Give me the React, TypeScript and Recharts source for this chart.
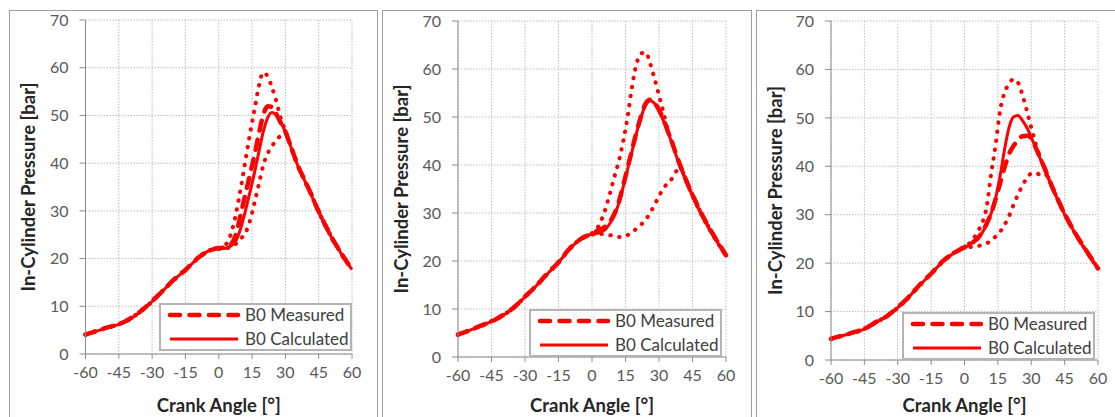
import React from 'react'
import { LineChart, Line, XAxis, YAxis, CartesianGrid, Legend } from 'recharts'

// crank angle [deg]: coarse during compression, finer around combustion
const ANGLES = [
  -60, -55, -50, -45, -40, -35, -30, -25, -20, -15, -10, -5, 0,
  2, 4, 6, 8, 10, 12, 14, 16, 18, 20, 22, 24, 26, 28, 30,
  32, 34, 36, 38, 40, 42, 44, 46, 48, 50, 52, 54, 56, 58, 60,
]
const X_TICKS = [-60, -45, -30, -15, 0, 15, 30, 45, 60]
const Y_TICKS = [0, 10, 20, 30, 40, 50, 60, 70]

// ---- case 1 ----
const P1_CALC = [
  4.0, 4.8, 5.5, 6.2, 7.3, 9.0, 11.0, 13.3, 15.6, 17.6, 19.8, 21.5, 22.1,
  22.1, 22.3, 22.8, 24.0, 26.5, 30.0, 33.8, 37.8, 42.2, 46.5, 49.5, 50.6, 50.0, 48.5, 46.5,
  44.0, 41.4, 39.0, 37.0, 35.0, 33.0, 30.8, 28.8, 26.9, 25.1, 23.4, 21.9, 20.4, 19.0, 17.7,
]
const P1_MEAS = [
  4.1, 4.8, 5.6, 6.2, 7.4, 9.0, 11.1, 13.3, 15.7, 17.6, 19.9, 21.5, 22.2,
  22.3, 22.6, 23.3, 25.5, 29.5, 33.5, 37.5, 41.5, 46.0, 50.0, 51.9, 51.8, 50.2, 48.4, 46.6,
  44.1, 41.5, 39.1, 37.1, 35.1, 33.1, 30.9, 28.9, 27.0, 25.2, 23.5, 22.0, 20.5, 19.1, 17.6,
]
const P1_HIGH = [
  4.1, 4.9, 5.5, 6.3, 7.3, 9.1, 11.0, 13.4, 15.6, 17.7, 19.8, 21.6, 22.2,
  22.5, 23.5, 26.0, 30.0, 35.0, 40.5, 46.0, 51.0, 56.0, 59.0, 58.2, 55.8, 52.8, 49.3, 46.8,
  44.2, 41.5, 39.1, 37.1, 35.1, 33.1, 30.9, 28.9, 27.0, 25.2, 23.5, 22.0, 20.5, 19.1, 17.8,
]
const P1_LOW = [
  4.0, 4.8, 5.5, 6.2, 7.3, 9.0, 11.0, 13.3, 15.6, 17.6, 19.8, 21.5, 22.0,
  22.0, 22.2, 22.6, 23.2, 24.2, 25.4, 27.8, 31.5, 35.5, 39.5, 42.0, 43.6, 44.8, 45.8, 46.3,
  44.0, 41.4, 39.0, 37.0, 35.0, 33.0, 30.8, 28.8, 26.9, 25.1, 23.4, 21.9, 20.4, 19.0, 17.7,
]

// ---- case 2 ----
const P2_CALC = [
  4.6, 5.5, 6.4, 7.4, 8.6, 10.3, 12.5, 14.8, 17.3, 19.7, 22.5, 24.6, 25.6,
  25.7, 26.0, 26.6, 27.8, 29.5, 32.0, 35.5, 39.2, 43.0, 46.8, 50.0, 52.5, 53.4, 52.8, 51.2,
  49.2, 46.8, 44.3, 41.5, 39.0, 36.8, 34.6, 32.6, 30.6, 28.8, 27.1, 25.5, 24.0, 22.5, 21.0,
]
const P2_MEAS = [
  4.7, 5.5, 6.5, 7.4, 8.7, 10.3, 12.6, 14.8, 17.4, 19.7, 22.6, 24.6, 25.7,
  26.2, 26.6, 27.2, 28.2, 29.8, 32.3, 35.8, 39.5, 43.3, 47.0, 50.2, 52.8, 53.6, 53.0, 51.5,
  49.5, 47.0, 44.5, 41.8, 39.3, 37.0, 34.8, 32.8, 30.8, 29.0, 27.3, 25.7, 24.2, 22.7, 21.2,
]
const P2_HIGH = [
  4.6, 5.6, 6.4, 7.5, 8.6, 10.4, 12.5, 14.9, 17.3, 19.8, 22.5, 24.7, 25.8,
  26.6, 28.3, 30.8, 34.0, 37.5, 40.8, 45.0, 50.2, 56.5, 61.2, 63.2, 63.5, 61.2, 58.0, 54.5,
  51.0, 47.2, 44.6, 41.8, 39.3, 37.0, 34.8, 32.8, 30.8, 29.0, 27.3, 25.7, 24.2, 22.7, 21.2,
]
const P2_LOW = [
  4.6, 5.5, 6.4, 7.4, 8.6, 10.3, 12.5, 14.8, 17.3, 19.7, 22.5, 24.6, 25.5,
  25.6, 25.6, 25.6, 25.4, 25.2, 25.0, 25.0, 25.4, 26.0, 26.8, 27.6, 28.6, 30.0, 31.7, 33.5,
  35.2, 36.2, 37.3, 38.8, 39.0, 36.8, 34.6, 32.6, 30.6, 28.8, 27.1, 25.5, 24.0, 22.5, 21.0,
]

// ---- case 3 ----
const P3_CALC = [
  4.3, 5.0, 5.6, 6.4, 7.7, 9.0, 10.8, 13.0, 15.5, 17.8, 20.2, 22.0, 23.2,
  23.7, 24.3, 25.0, 26.3, 28.0, 30.3, 33.5, 38.0, 43.5, 48.0, 50.2, 50.5, 49.5, 48.0, 46.0,
  43.8, 41.6, 39.5, 37.2, 35.0, 33.0, 31.0, 29.2, 27.5, 25.9, 24.4, 23.0, 21.6, 20.2, 18.9,
]
const P3_MEAS = [
  4.4, 5.0, 5.7, 6.4, 7.8, 9.0, 10.9, 13.0, 15.6, 17.8, 20.3, 22.0, 23.3,
  23.8, 24.4, 25.2, 26.5, 28.2, 30.3, 33.3, 36.5, 39.8, 42.5, 44.2, 45.3, 46.2, 46.3, 45.8,
  43.9, 41.7, 39.6, 37.3, 35.1, 33.1, 31.1, 29.3, 27.6, 26.0, 24.5, 23.1, 21.7, 20.3, 18.9,
]
const P3_HIGH = [
  4.3, 5.1, 5.6, 6.5, 7.7, 9.1, 10.8, 13.1, 15.5, 17.9, 20.2, 22.1, 23.4,
  24.0, 25.0, 26.6, 28.3, 31.8, 38.5, 44.5, 51.5, 55.2, 57.0, 58.0, 57.3, 54.8, 51.5, 48.0,
  44.6, 41.8, 39.6, 37.3, 35.1, 33.1, 31.1, 29.3, 27.6, 26.0, 24.5, 23.1, 21.7, 20.3, 19.0,
]
const P3_LOW = [
  4.3, 5.0, 5.6, 6.4, 7.7, 9.0, 10.8, 13.0, 15.5, 17.8, 20.2, 22.0, 23.2,
  23.3, 23.4, 23.5, 23.8, 24.1, 24.7, 25.5, 26.5, 27.9, 29.7, 32.0, 34.1, 36.0, 37.5, 38.5,
  38.6, 38.3, 38.5, 37.2, 35.0, 33.0, 31.0, 29.2, 27.5, 25.9, 24.4, 23.0, 21.6, 20.2, 18.9,
]

const RED = '#ff0000'
const FONT = 'Lato, "Open Sans", sans-serif'

// legend rows, top to bottom
const LEGEND_ITEMS = [
  { key: 'meas', dash: '10 9.5', width: 4.5 },
  { key: 'calc', dash: undefined, width: 3 },
]

function LegendBox(props: any) {
  const payload = props.payload || []
  return (
    <div style={{ boxSizing: 'border-box', width: 193, height: 48, border: '2px solid #b4b4b4', background: '#fff' }}>
      <svg width={189} height={44} style={{ display: 'block' }}>
        {LEGEND_ITEMS.map((st, i) => {
          const entry = payload.find((p: any) => p.dataKey === st.key)
          if (!entry) return null
          const y = 10 + i * 24
          return (
            <g key={st.key}>
              <line x1={9} x2={77} y1={y} y2={y} stroke={RED} strokeWidth={st.width}
                strokeDasharray={st.dash} strokeLinecap={st.dash ? 'round' : 'butt'} />
              <text x={84} y={y + 6} fontSize={17} fill="#404040" fontFamily={FONT}>{entry.value}</text>
            </g>
          )
        })}
      </svg>
    </div>
  )
}

interface PanelProps {
  left: number
  width: number
  plotLeft: number
  plotRight: number
  plotTop: number
  plotBottom: number
  legendLeft: number
  legendTop: number
  calc: number[]
  meas: number[]
  high: number[]
  low: number[]
}

function Panel({ left, width, plotLeft, plotRight, plotTop, plotBottom, legendLeft, legendTop, calc, meas, high, low }: PanelProps) {
  const height = 417
  const data = ANGLES.map((a, i) => ({ angle: a, calc: calc[i], meas: meas[i], high: high[i], low: low[i] }))
  const tick = { fontSize: 16, fill: '#595959', fontFamily: FONT }
  const title = { fontSize: 18.5, fontWeight: 700, fill: '#262626', fontFamily: FONT }
  return (
    <>
      <div style={{ position: 'absolute', left, top: 10, width, height: 430, boxSizing: 'border-box', border: '1px solid #9f9f9f' }} />
      <div style={{ position: 'absolute', left, top: 0 }}>
        <LineChart width={width} height={height} data={data}
          margin={{ top: plotTop, right: left + width - plotRight, left: 0, bottom: 0 }}>
          <CartesianGrid stroke="#bdbdbd" strokeDasharray="1.5 1.5" />
          <XAxis dataKey="angle" type="number" domain={[-60, 60]} ticks={X_TICKS} interval={0}
            height={height - plotBottom} tick={tick} tickSize={5} tickMargin={8}
            axisLine={{ stroke: '#8c8c8c' }} tickLine={{ stroke: '#8c8c8c' }}
            label={{ value: 'Crank Angle [°]', position: 'insideBottom', offset: 5, style: title }} />
          <YAxis type="number" domain={[0, 70]} ticks={Y_TICKS} interval={0}
            width={plotLeft - left} tick={tick} tickSize={6} tickMargin={11}
            axisLine={{ stroke: '#8c8c8c' }} tickLine={{ stroke: '#8c8c8c' }}
            label={{ value: 'In-Cylinder Pressure [bar]', angle: -90, position: 'insideLeft', offset: 19,
              style: { ...title, textAnchor: 'middle' } }} />
          <Legend layout="vertical" align="center" verticalAlign="middle" content={<LegendBox />}
            wrapperStyle={{ left: legendLeft - left, top: legendTop, width: 193, height: 48, right: 'auto', bottom: 'auto' }} />
          <Line dataKey="high" type="monotone" stroke={RED} strokeWidth={4} strokeDasharray="0.5 8.5"
            strokeLinecap="round" dot={false} legendType="none" isAnimationActive={false} />
          <Line dataKey="low" type="monotone" stroke={RED} strokeWidth={4} strokeDasharray="0.5 8.5"
            strokeLinecap="round" dot={false} legendType="none" isAnimationActive={false} />
          <Line dataKey="meas" name="B0 Measured" type="monotone" stroke={RED} strokeWidth={4.5}
            strokeDasharray="10 9.5" strokeLinecap="round" dot={false} isAnimationActive={false} />
          <Line dataKey="calc" name="B0 Calculated" type="monotone" stroke={RED} strokeWidth={3}
            dot={false} isAnimationActive={false} />
        </LineChart>
      </div>
    </>
  )
}

export default function App() {
  return (
    <div style={{ position: 'absolute', left: 0, top: 0, width: 1115, height: 417, overflow: 'hidden', background: '#fff', fontFamily: FONT }}>
      <Panel left={9} width={369} plotLeft={85.5} plotRight={352} plotTop={20} plotBottom={354}
        legendLeft={159} legendTop={303} calc={P1_CALC} meas={P1_MEAS} high={P1_HIGH} low={P1_LOW} />
      <Panel left={382} width={370} plotLeft={458} plotRight={726} plotTop={21} plotBottom={357}
        legendLeft={529} legendTop={309} calc={P2_CALC} meas={P2_MEAS} high={P2_HIGH} low={P2_LOW} />
      <Panel left={756} width={370} plotLeft={831} plotRight={1098} plotTop={21} plotBottom={360}
        legendLeft={902} legendTop={312} calc={P3_CALC} meas={P3_MEAS} high={P3_HIGH} low={P3_LOW} />
    </div>
  )
}
